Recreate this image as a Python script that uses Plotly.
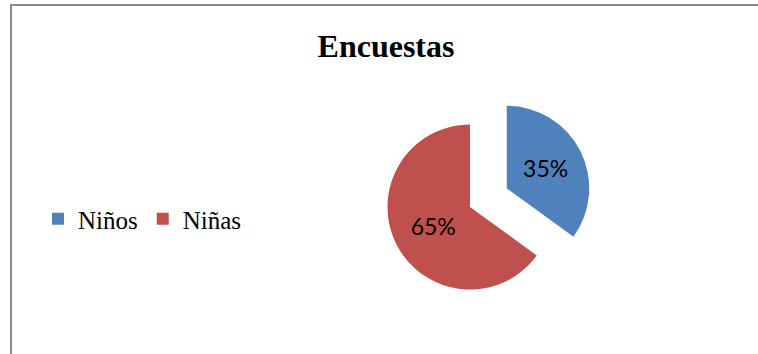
import plotly.graph_objects as go

# Survey share by group
labels = ["Niños", "Niñas"]
values = [35, 65]
colors = ["#4F81BD", "#C0504D"]
pulls = [0.5, 0]

W, H = 758, 354

fig = go.Figure(
    go.Pie(
        labels=labels,
        values=values,
        sort=False,
        direction="clockwise",
        rotation=0,
        pull=pulls,
        marker=dict(colors=colors, line=dict(width=0)),
        textinfo="percent",
        textposition="inside",
        insidetextorientation="horizontal",
        textfont=dict(family="Lato, Carlito, Calibri, sans-serif", size=23, color="black"),
        domain=dict(x=[0.4568, 0.7833], y=[0.0657, 0.7648]),
        hoverinfo="label+percent",
    )
)

fig.update_layout(
    width=W,
    height=H,
    margin=dict(l=0, r=0, t=0, b=0),
    paper_bgcolor="white",
    plot_bgcolor="white",
    title=dict(
        text="<b>Encuestas</b>",
        font=dict(family="Liberation Serif, Times New Roman, serif", size=32, color="black"),
        x=386 / W,
        xanchor="center",
        xref="paper",
        y=1 - 46 / H,
        yanchor="middle",
        yref="container",
    ),
    legend=dict(
        orientation="h",
        x=38 / W,
        xanchor="left",
        y=1 - 219 / H,
        yanchor="middle",
        font=dict(family="Liberation Serif, Times New Roman, serif", size=25, color="black"),
        bgcolor="rgba(0,0,0,0)",
        borderwidth=0,
    ),
    shapes=[
        dict(
            type="rect",
            xref="paper",
            yref="paper",
            x0=11 / W,
            x1=1.05,
            y0=-0.1,
            y1=1 - 5 / H,
            line=dict(color="#8a8a8a", width=2),
            fillcolor="rgba(0,0,0,0)",
            layer="below",
        )
    ],
)

fig.write_html("out.html")
